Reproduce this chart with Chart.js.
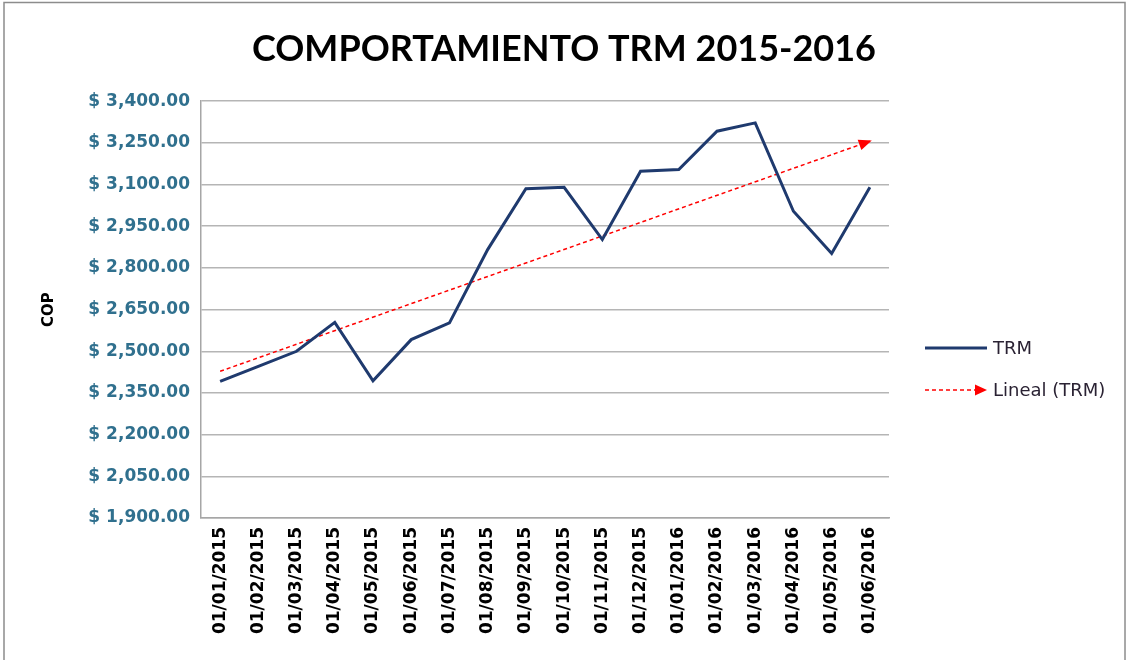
<!DOCTYPE html>
<html>
<head>
<meta charset="utf-8">
<script src="https://cdn.jsdelivr.net/npm/chart.js@4/dist/chart.umd.min.js"></script>
<style>
  html, body { margin: 0; padding: 0; background: #fff; }
  #wrap { width: 1128px; height: 660px; position: relative; }
</style>
</head>
<body>
<div id="wrap"><canvas id="trmChart"></canvas></div>
<script>
// fechas (primer dia de cada mes)
const fechas = ['01/01/2015', '01/02/2015', '01/03/2015', '01/04/2015', '01/05/2015', '01/06/2015',
  '01/07/2015', '01/08/2015', '01/09/2015', '01/10/2015', '01/11/2015', '01/12/2015',
  '01/01/2016', '01/02/2016', '01/03/2016', '01/04/2016', '01/05/2016', '01/06/2016'];

// TRM en COP
const trm = [2392, 2446, 2500, 2604, 2394, 2542, 2602, 2866, 3085, 3090, 2902, 3148,
  3154, 3292, 3322, 3004, 2852, 3090];

// extremos de la linea de tendencia (Lineal TRM)
const tendenciaInicio = 2428;
const tendenciaFin = 3256;

const yMin = 1900, yMax = 3400, yPaso = 150;

const tendencia = fechas.map((f, i) => i === 0 ? tendenciaInicio : (i === fechas.length - 1 ? tendenciaFin : null));

const FONT_TITULO = 'Lato, "Open Sans", sans-serif';
const FONT = '"DejaVu Sans", sans-serif';

// marco gris alrededor de todo
const marco = {
  id: 'marco',
  beforeDraw(chart) {
    const ctx = chart.ctx;
    ctx.save();
    ctx.fillStyle = '#fff';
    ctx.fillRect(0, 0, chart.width, chart.height);
    ctx.strokeStyle = '#8c8c8c';
    ctx.lineWidth = 1.5;
    ctx.strokeRect(4, 2.5, chart.width - 7, chart.height + 10);
    ctx.restore();
  }
};

// punta de flecha al final de la tendencia
const flecha = {
  id: 'flecha',
  afterDatasetsDraw(chart) {
    const pts = chart.getDatasetMeta(1).data;
    const a = pts[0], b = pts[pts.length - 1];
    const ang = Math.atan2(b.y - a.y, b.x - a.x);
    const ctx = chart.ctx;
    ctx.save();
    ctx.translate(b.x, b.y);
    ctx.rotate(ang);
    ctx.fillStyle = '#ff0000';
    ctx.beginPath();
    ctx.moveTo(2, 0);
    ctx.lineTo(-11, -5.5);
    ctx.lineTo(-11, 5.5);
    ctx.closePath();
    ctx.fill();
    ctx.restore();
  }
};

// leyenda a la derecha
const leyenda = {
  id: 'leyenda',
  afterDraw(chart) {
    const ctx = chart.ctx;
    const x0 = chart.chartArea.right + 36;
    ctx.save();
    ctx.font = '18px ' + FONT;
    ctx.textBaseline = 'middle';
    ctx.fillStyle = '#2a2233';

    ctx.strokeStyle = '#1f3a6e';
    ctx.lineWidth = 3;
    ctx.beginPath();
    ctx.moveTo(x0, 348);
    ctx.lineTo(x0 + 62, 348);
    ctx.stroke();
    ctx.fillText('TRM', x0 + 68, 349);

    ctx.strokeStyle = '#ff0000';
    ctx.lineWidth = 1.5;
    ctx.setLineDash([4, 3]);
    ctx.beginPath();
    ctx.moveTo(x0, 390);
    ctx.lineTo(x0 + 52, 390);
    ctx.stroke();
    ctx.setLineDash([]);
    ctx.fillStyle = '#ff0000';
    ctx.beginPath();
    ctx.moveTo(x0 + 62, 390);
    ctx.lineTo(x0 + 50, 384.5);
    ctx.lineTo(x0 + 50, 395.5);
    ctx.closePath();
    ctx.fill();
    ctx.fillStyle = '#2a2233';
    ctx.fillText('Lineal (TRM)', x0 + 68, 391);
    ctx.restore();
  }
};

const ctx = document.getElementById('trmChart').getContext('2d');
new Chart(ctx, {
  type: 'line',
  data: {
    labels: fechas,
    datasets: [
      {
        label: 'TRM',
        data: trm,
        borderColor: '#1f3a6e',
        borderWidth: 3,
        pointRadius: 0,
        tension: 0,
        borderJoinStyle: 'miter'
      },
      {
        label: 'Lineal (TRM)',
        data: tendencia,
        borderColor: '#ff0000',
        borderWidth: 1.5,
        borderDash: [4, 3],
        pointRadius: 0,
        spanGaps: true
      }
    ]
  },
  options: {
    responsive: true,
    maintainAspectRatio: false,
    animation: false,
    layout: {
      padding: 0
    },
    plugins: {
      legend: { display: false },
      tooltip: { enabled: false },
      title: {
        display: true,
        text: 'COMPORTAMIENTO TRM 2015-2016',
        color: '#000',
        font: { family: FONT_TITULO, size: 36, weight: 'bold' },
        padding: { top: 28, bottom: 30 }
      }
    },
    scales: {
      x: {
        offset: true,
        grid: { display: false, drawTicks: false },
        border: { display: true, color: '#a6a6a6', width: 1.5 },
        ticks: {
          color: '#000',
          font: { family: FONT, size: 17, weight: 'bold' },
          minRotation: 90,
          maxRotation: 90,
          padding: 9
        },
        afterFit(scale) { scale.height = 142; }
      },
      y: {
        min: yMin,
        max: yMax,
        ticks: {
          stepSize: yPaso,
          color: '#30708e',
          font: { family: FONT, size: 17, weight: 'bold' },
          padding: 11,
          callback: v => '$ ' + v.toLocaleString('en-US', { minimumFractionDigits: 2, maximumFractionDigits: 2 })
        },
        grid: { color: '#b5b5b5', lineWidth: 1.5, drawTicks: false },
        border: { display: true, color: '#a6a6a6', width: 1.5 },
        title: {
          display: true,
          text: 'COP',
          color: '#000',
          font: { family: FONT, size: 15, weight: 'bold' },
          padding: { top: 40, bottom: 4 }
        },
        afterFit(scale) { scale.width = 201; }
      },
      // eje vacio a la derecha: deja sitio para la leyenda
      espacio: {
        type: 'linear',
        position: 'right',
        grid: { display: false },
        border: { display: false },
        ticks: { display: false },
        afterFit(scale) { scale.width = 239; }
      }
    }
  },
  plugins: [marco, flecha, leyenda]
});
</script>
</body>
</html>
